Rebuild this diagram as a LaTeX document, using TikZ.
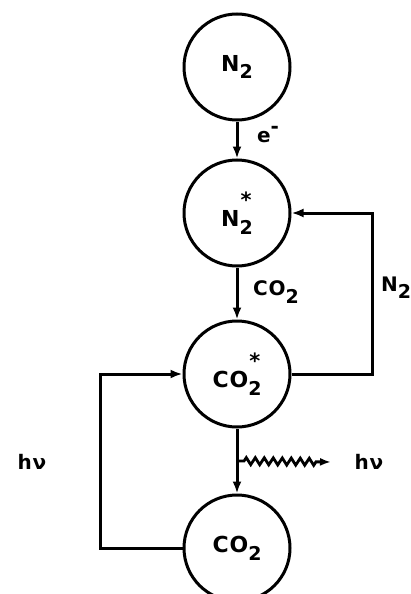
\documentclass[tikz,border=0pt]{standalone}
\usepackage{fontspec}
\setmainfont{DejaVu Sans}[LetterSpace=4]
\usetikzlibrary{arrows.meta,calc,decorations.pathmorphing}
\newcommand{\lowtwo}{\raisebox{-0.36em}{\fontsize{19}{19}\selectfont 2}}
\newcommand{\startwo}{\rlap{\hspace{1pt}\raisebox{0.85em}{\fontsize{21}{21}\selectfont *}}\lowtwo}
\tikzset{
  species/.style={circle,draw,line width=3pt,minimum size=106pt,inner sep=0pt,
    font=\fontsize{22}{22}\selectfont\bfseries},
  lbl/.style={inner sep=0pt,font=\fontsize{20}{20}\selectfont\bfseries},
  arr/.style={line width=3pt,-{Latex[length=12pt,width=9pt]}}
}

\begin{document}
\begin{tikzpicture}[x=1pt,y=-1pt]
\useasboundingbox (0,0) rectangle (411,594);
\node[species] (n2) at (237,67) {N\lowtwo};
\node[species] (n2s) at (237,213) {N\startwo};
\node[species] (co2s) at (237,374) {CO\startwo};
\node[species] (co2) at (237,548) {CO\lowtwo};
\coordinate (rline) at (372,0);
\coordinate (lline) at (100,0);
\draw[arr] (n2) -- (n2s);
\draw[arr] (n2s) -- (co2s);
\draw[arr] (co2s) -- (co2);
\draw[arr] (co2s.east) -- (co2s.east -| rline) -- (n2s.east -| rline) -- (n2s.east);
\draw[arr] (co2.west) -- (co2.west -| lline) -- (co2s.west -| lline) -- (co2s.west);
% emitted light
\coordinate (wave) at ($(co2s.south)!0.5!(co2.north)$);
\coordinate (hvtip) at (331,462);
\draw[line width=2.8pt,-{Latex[length=11pt,width=8pt]},decorate,
  decoration={zigzag,amplitude=3.5pt,segment length=9pt,pre length=7pt,post length=13pt}]
  (wave) -- (hvtip);
\node[lbl] (elab) at (268,135) {e\raisebox{0.45em}{-}};
\node[lbl] (co2lab) at (276,292) {CO\lowtwo};
\node[lbl,anchor=west] (n2lab) at (381,288) {N\lowtwo};
\node[lbl] (hvleft) at (32,462) {hν};
\node[lbl] (hvright) at (369,462) {hν};
\end{tikzpicture}
\end{document}
